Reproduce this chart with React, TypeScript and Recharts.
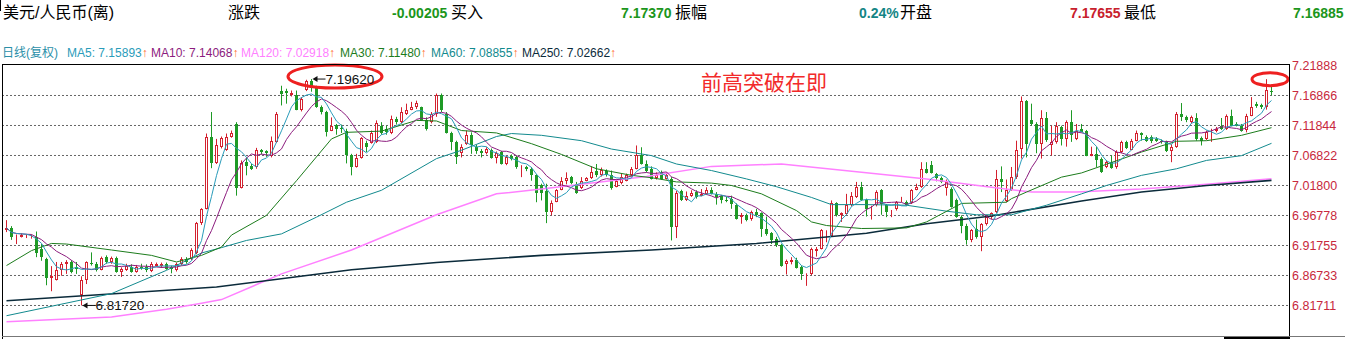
import React from 'react';
import { ComposedChart, Bar, Line, XAxis, YAxis, CartesianGrid, ReferenceDot } from 'recharts';

// 日K线 (从图上读出的开高低收)
const opens = [
  6.943, 6.947, 6.931, 6.932, 6.932, 6.932, 6.932, 6.912, 6.895, 6.863,
  6.860, 6.877, 6.886, 6.890, 6.881, 6.834, 6.859, 6.889, 6.887, 6.877,
  6.898, 6.890, 6.896, 6.873, 6.877, 6.881, 6.874, 6.882, 6.882, 6.875,
  6.884, 6.884, 6.887, 6.881, 6.877, 6.886, 6.895, 6.895, 6.905, 6.955,
  6.979, 7.100, 7.055, 7.083, 7.078, 7.100, 7.121, 7.014, 7.057, 7.051,
  7.049, 7.077, 7.075, 7.067, 7.091, 7.177, 7.177, 7.169, 7.170, 7.145,
  7.178, 7.193, 7.182, 7.149, 7.141, 7.110, 7.119, 7.115, 7.110, 7.069,
  7.049, 7.064, 7.089, 7.089, 7.091, 7.118, 7.113, 7.106, 7.130, 7.124,
  7.138, 7.145, 7.149, 7.149, 7.127, 7.124, 7.138, 7.169, 7.138, 7.106,
  7.091, 7.072, 7.087, 7.103, 7.083, 7.076, 7.072, 7.078, 7.064, 7.074,
  7.054, 7.067, 7.065, 7.048, 7.049, 7.045, 7.035, 7.019, 7.009, 6.973,
  6.991, 7.011, 7.026, 7.032, 7.020, 7.014, 7.026, 7.030, 7.043, 7.035,
  7.043, 7.035, 7.016, 7.022, 7.026, 7.035, 7.046, 7.069, 7.054, 7.046,
  7.031, 7.040, 7.029, 7.029, 6.948, 7.008, 6.994, 7.001, 7.007, 7.001,
  7.004, 7.010, 7.004, 7.000, 6.994, 6.996, 6.986, 6.966, 6.968, 6.962,
  6.973, 6.972, 6.945, 6.938, 6.928, 6.918, 6.886, 6.890, 6.894, 6.881,
  6.866, 6.870, 6.909, 6.912, 6.932, 6.934, 6.988, 6.969, 6.971, 6.985,
  6.998, 7.015, 6.993, 6.981, 6.985, 7.010, 6.985, 6.975, 6.979, 6.992,
  6.991, 6.988, 7.011, 7.015, 7.046, 7.053, 7.038, 7.031, 7.014, 7.012,
  6.994, 6.965, 6.951, 6.926, 6.945, 6.931, 6.954, 6.965, 6.973, 7.029,
  6.992, 7.011, 7.032, 7.079, 7.159, 7.127, 7.121, 7.088, 7.131, 7.085,
  7.091, 7.116, 7.096, 7.124, 7.096, 7.113, 7.109, 7.068, 7.070, 7.063,
  7.049, 7.057, 7.049, 7.074, 7.091, 7.078, 7.093, 7.106, 7.100, 7.099,
  7.096, 7.093, 7.091, 7.076, 7.083, 7.137, 7.132, 7.124, 7.131, 7.098,
  7.096, 7.107, 7.110, 7.118, 7.113, 7.134, 7.121, 7.118, 7.111, 7.135,
  7.154, 7.152, 7.149, 7.17655,
];

const highs = [
  6.960, 6.950, 6.936, 6.938, 6.936, 6.936, 6.941, 6.920, 6.897, 6.883,
  6.890, 6.890, 6.893, 6.893, 6.890, 6.866, 6.891, 6.906, 6.890, 6.899,
  6.901, 6.899, 6.899, 6.881, 6.887, 6.886, 6.885, 6.887, 6.886, 6.890,
  6.889, 6.889, 6.889, 6.884, 6.889, 6.898, 6.898, 6.913, 6.957, 6.980,
  7.105, 7.141, 7.096, 7.100, 7.105, 7.110, 7.124, 7.060, 7.065, 7.054,
  7.081, 7.079, 7.077, 7.100, 7.141, 7.185, 7.180, 7.177, 7.177, 7.166,
  7.195, 7.1962, 7.185, 7.152, 7.143, 7.132, 7.121, 7.120, 7.113, 7.071,
  7.071, 7.099, 7.093, 7.110, 7.127, 7.124, 7.118, 7.135, 7.133, 7.149,
  7.155, 7.158, 7.160, 7.150, 7.132, 7.141, 7.172, 7.172, 7.141, 7.108,
  7.093, 7.087, 7.110, 7.107, 7.086, 7.079, 7.082, 7.080, 7.075, 7.076,
  7.068, 7.070, 7.068, 7.052, 7.051, 7.049, 7.037, 7.021, 7.021, 6.993,
  7.012, 7.032, 7.040, 7.034, 7.024, 7.032, 7.032, 7.050, 7.054, 7.048,
  7.045, 7.043, 7.029, 7.038, 7.038, 7.049, 7.085, 7.082, 7.060, 7.050,
  7.040, 7.043, 7.040, 7.032, 7.009, 7.011, 7.008, 7.010, 7.010, 7.012,
  7.015, 7.015, 7.007, 7.002, 6.999, 7.001, 6.988, 6.972, 6.971, 6.976,
  6.979, 6.973, 6.966, 6.940, 6.932, 6.920, 6.894, 6.898, 6.897, 6.884,
  6.871, 6.914, 6.915, 6.945, 6.943, 6.993, 6.990, 6.973, 7.004, 7.007,
  7.024, 7.024, 6.996, 6.984, 7.010, 7.012, 6.987, 6.977, 6.992, 6.999,
  6.993, 7.012, 7.021, 7.057, 7.057, 7.059, 7.039, 7.033, 7.028, 7.015,
  6.996, 6.968, 6.954, 6.945, 6.961, 6.955, 6.968, 6.973, 7.044, 7.050,
  7.028, 7.049, 7.093, 7.167, 7.161, 7.155, 7.124, 7.144, 7.141, 7.118,
  7.124, 7.118, 7.127, 7.144, 7.121, 7.121, 7.111, 7.083, 7.083, 7.065,
  7.060, 7.068, 7.077, 7.093, 7.093, 7.096, 7.110, 7.107, 7.102, 7.102,
  7.099, 7.095, 7.093, 7.087, 7.141, 7.156, 7.135, 7.135, 7.139, 7.100,
  7.110, 7.113, 7.116, 7.131, 7.137, 7.145, 7.124, 7.121, 7.138, 7.166,
  7.158, 7.155, 7.196, 7.185,
];

const lows = [
  6.940, 6.927, 6.920, 6.931, 6.930, 6.929, 6.898, 6.892, 6.851, 6.841,
  6.859, 6.867, 6.870, 6.871, 6.870, 6.8172, 6.853, 6.884, 6.874, 6.876,
  6.887, 6.887, 6.872, 6.865, 6.875, 6.872, 6.872, 6.877, 6.873, 6.873,
  6.882, 6.880, 6.877, 6.871, 6.874, 6.884, 6.887, 6.893, 6.903, 6.952,
  6.978, 7.047, 7.054, 7.080, 7.076, 7.098, 7.001, 7.013, 7.035, 7.044,
  7.046, 7.070, 7.066, 7.065, 7.089, 7.152, 7.155, 7.167, 7.144, 7.142,
  7.176, 7.175, 7.148, 7.137, 7.100, 7.109, 7.103, 7.106, 7.055, 7.035,
  7.048, 7.063, 7.074, 7.088, 7.089, 7.103, 7.103, 7.104, 7.120, 7.122,
  7.136, 7.144, 7.146, 7.126, 7.110, 7.122, 7.133, 7.141, 7.105, 7.077,
  7.054, 7.065, 7.086, 7.071, 7.071, 7.065, 7.070, 7.063, 7.055, 7.053,
  7.052, 7.060, 7.046, 7.032, 7.042, 7.026, 6.990, 6.993, 6.955, 6.968,
  6.990, 7.010, 7.020, 7.020, 7.004, 7.012, 7.025, 7.029, 7.032, 7.033,
  7.033, 7.011, 7.015, 7.020, 7.025, 7.033, 7.045, 7.053, 7.040, 7.028,
  7.028, 7.028, 7.028, 6.926, 6.930, 6.992, 6.992, 6.999, 6.996, 7.000,
  7.002, 7.003, 6.986, 6.988, 6.990, 6.979, 6.961, 6.954, 6.958, 6.959,
  6.965, 6.932, 6.934, 6.920, 6.915, 6.882, 6.869, 6.886, 6.879, 6.860,
  6.850, 6.868, 6.899, 6.911, 6.923, 6.933, 6.966, 6.957, 6.969, 6.983,
  6.997, 6.992, 6.966, 6.961, 6.983, 6.969, 6.965, 6.965, 6.976, 6.990,
  6.984, 6.987, 7.010, 7.014, 7.038, 7.038, 7.025, 7.022, 7.001, 6.981,
  6.964, 6.938, 6.919, 6.923, 6.929, 6.908, 6.951, 6.962, 6.972, 7.007,
  6.990, 7.009, 7.029, 7.063, 7.065, 7.118, 7.072, 7.063, 7.091, 7.068,
  7.088, 7.085, 7.083, 7.091, 7.094, 7.107, 7.067, 7.067, 7.049, 7.039,
  7.047, 7.046, 7.046, 7.072, 7.079, 7.077, 7.092, 7.093, 7.091, 7.089,
  7.091, 7.088, 7.074, 7.057, 7.081, 7.126, 7.124, 7.122, 7.093, 7.085,
  7.094, 7.091, 7.107, 7.111, 7.111, 7.117, 7.117, 7.108, 7.107, 7.134,
  7.148, 7.146, 7.145, 7.16885,
];

const closes = [
  6.947, 6.932, 6.934, 6.935, 6.934, 6.934, 6.905, 6.898, 6.863, 6.867,
  6.877, 6.886, 6.890, 6.873, 6.879, 6.859, 6.890, 6.888, 6.877, 6.896,
  6.890, 6.896, 6.873, 6.878, 6.884, 6.874, 6.881, 6.880, 6.876, 6.887,
  6.887, 6.887, 6.879, 6.878, 6.886, 6.895, 6.890, 6.910, 6.955, 6.978,
  7.100, 7.055, 7.085, 7.097, 7.099, 7.106, 7.014, 7.056, 7.050, 7.046,
  7.078, 7.074, 7.072, 7.092, 7.138, 7.172, 7.173, 7.173, 7.145, 7.163,
  7.193, 7.182, 7.149, 7.141, 7.108, 7.118, 7.113, 7.112, 7.069, 7.049,
  7.064, 7.098, 7.083, 7.106, 7.123, 7.106, 7.108, 7.130, 7.124, 7.141,
  7.144, 7.149, 7.156, 7.127, 7.113, 7.138, 7.169, 7.144, 7.106, 7.091,
  7.065, 7.083, 7.103, 7.085, 7.076, 7.072, 7.079, 7.064, 7.072, 7.054,
  7.065, 7.062, 7.049, 7.049, 7.046, 7.035, 7.005, 7.005, 6.973, 6.989,
  7.011, 7.026, 7.031, 7.022, 7.006, 7.025, 7.030, 7.041, 7.035, 7.044,
  7.035, 7.014, 7.026, 7.032, 7.035, 7.046, 7.069, 7.054, 7.043, 7.029,
  7.035, 7.029, 7.035, 6.948, 7.006, 6.993, 7.001, 7.005, 6.999, 7.004,
  7.010, 7.004, 6.999, 6.993, 6.992, 6.987, 6.962, 6.969, 6.961, 6.973,
  6.968, 6.945, 6.937, 6.926, 6.918, 6.884, 6.891, 6.894, 6.880, 6.870,
  6.868, 6.911, 6.912, 6.943, 6.934, 6.988, 6.968, 6.972, 6.985, 7.001,
  7.015, 6.993, 6.979, 6.982, 7.007, 6.987, 6.973, 6.976, 6.990, 6.994,
  6.986, 7.010, 7.016, 7.046, 7.039, 7.039, 7.031, 7.024, 7.024, 6.982,
  6.965, 6.951, 6.926, 6.943, 6.931, 6.953, 6.965, 6.972, 7.029, 7.024,
  7.011, 7.032, 7.078, 7.159, 7.088, 7.121, 7.088, 7.131, 7.094, 7.091,
  7.117, 7.096, 7.124, 7.103, 7.110, 7.108, 7.068, 7.070, 7.061, 7.040,
  7.057, 7.048, 7.074, 7.091, 7.081, 7.093, 7.106, 7.103, 7.093, 7.092,
  7.092, 7.091, 7.076, 7.083, 7.138, 7.132, 7.127, 7.132, 7.096, 7.093,
  7.107, 7.110, 7.113, 7.113, 7.135, 7.118, 7.118, 7.110, 7.135, 7.150,
  7.151, 7.149, 7.178, 7.1737,
];

// 长周期均线: [K线序号, 读出的数值]
const ma30Pts = [
  [0, 6.884], [5, 6.909], [9, 6.921], [12, 6.920], [21, 6.910], [29, 6.901], [34, 6.890],
  [39, 6.901], [43, 6.915], [45, 6.935], [52, 6.968], [58, 7.026], [65, 7.096], [68, 7.107],
  [75, 7.109], [82, 7.127], [86, 7.126], [91, 7.110], [98, 7.106], [105, 7.088], [111, 7.070],
  [118, 7.046], [125, 7.035], [129, 7.031], [134, 7.024], [141, 7.022], [145, 7.018],
  [151, 7.004], [158, 6.976], [161, 6.957], [164, 6.951], [171, 6.946], [180, 6.947],
  [184, 6.957], [191, 6.988], [200, 6.990], [201, 6.996], [204, 7.007], [211, 7.032],
  [215, 7.039], [227, 7.074], [234, 7.092], [240, 7.093], [247, 7.102], [253, 7.1148],
];
const ma60Pts = [
  [0, 6.800], [21, 6.837], [32, 6.876], [39, 6.905], [43, 6.914], [48, 6.926], [55, 6.937],
  [62, 6.965], [68, 6.990], [75, 7.010], [86, 7.063], [91, 7.077], [98, 7.100], [101, 7.105],
  [107, 7.102], [115, 7.093], [121, 7.079], [129, 7.068], [134, 7.054], [141, 7.043],
  [148, 7.029], [154, 7.016], [161, 6.998], [165, 6.986], [172, 6.986], [180, 6.985],
  [188, 6.975], [194, 6.969], [201, 6.969], [208, 6.985], [215, 7.004], [220, 7.018],
  [227, 7.035], [234, 7.046], [240, 7.060], [247, 7.068], [253, 7.0886],
];
const ma120Pts = [
  [0, 6.790], [21, 6.798], [32, 6.811], [39, 6.821], [43, 6.827], [55, 6.870], [69, 6.910],
  [86, 6.969], [98, 7.004], [107, 7.012], [128, 7.033], [141, 7.050], [155, 7.054],
  [171, 7.040], [184, 7.029], [197, 7.015], [205, 7.007], [214, 7.007], [227, 7.012],
  [240, 7.020], [253, 7.0292],
];
const ma250Pts = [
  [0, 6.825], [20, 6.836], [42, 6.848], [69, 6.877], [86, 6.889], [107, 6.901], [129, 6.910],
  [150, 6.921], [172, 6.938], [184, 6.954], [197, 6.967], [215, 6.992], [227, 7.007],
  [240, 7.018], [253, 7.0266],
];

const yTicks = [7.21888, 7.16866, 7.11844, 7.06822, 7.018, 6.96778, 6.91755, 6.86733, 6.81711];
const Y_MAX = 7.22139;
const Y_MIN = 6.76605;

const headerTexts = ['美元/人民币(离)', '涨跌', '-0.00205', '买入', '7.17370', '振幅', '0.24%', '开盘', '7.17655', '最低', '7.16885'];
const headerColors = ['#000', '#000', '#1c961c', '#000', '#1c961c', '#000', '#138585', '#000', '#c8202c', '#000', '#1c961c'];
const headerX = [3, 228, 392, 451, 621, 675, 859, 900, 1070, 1124, 1293];

const legendNames = ['MA5', 'MA10', 'MA120', 'MA30', 'MA60', 'MA250'];
const legendValues = ['7.15893', '7.14068', '7.02918', '7.11480', '7.08855', '7.02662'];
const legendX = [67, 151, 241, 340, 431, 522];

const RED = '#d4202e';
const GREEN = '#1e9a26';
const C_MA5 = '#2a9cba';
const C_MA10 = '#8c1c7e';
const C_MA30 = '#1c7c1c';
const C_MA60 = '#128a8e';
const C_MA120 = '#ff80ff';
const C_MA250 = '#0b2b3b';
const legendColors = [C_MA5, C_MA10, C_MA120, C_MA30, C_MA60, C_MA250];

const LATIN = '"Liberation Sans", Arial, "Noto Sans CJK SC", sans-serif';

const movingAvg = (arr: number[], n: number) =>
  arr.map((_, i) => {
    const s = arr.slice(Math.max(0, i - n + 1), i + 1);
    return s.reduce((a, b) => a + b, 0) / s.length;
  });

const lookup = (pts: number[][]) => {
  const m = new Map(pts.map(([i, v]) => [i, v]));
  return (i: number) => (m.has(i) ? (m.get(i) as number) : null);
};

const ma5 = movingAvg(closes, 5);
const ma10 = movingAvg(closes, 10);
const g30 = lookup(ma30Pts);
const g60 = lookup(ma60Pts);
const g120 = lookup(ma120Pts);
const g250 = lookup(ma250Pts);

const data = opens.map((o, i) => ({
  i,
  open: o,
  high: highs[i],
  low: lows[i],
  close: closes[i],
  ma5: ma5[i],
  ma10: ma10[i],
  ma30: g30(i),
  ma60: g60(i),
  ma120: g120(i),
  ma250: g250(i),
}));

const Candle = (props: any) => {
  const { x, y, width, height, payload } = props;
  if (!payload || y == null || height == null) return null;
  const { open, close, high, low } = payload;
  const top = Math.min(y, y + height);
  const span = Math.abs(height);
  const k = high > low ? span / (high - low) : 0;
  const py = (v: number) => top + (high - v) * k;
  const cx = Math.floor(x + width / 2) + 0.5;
  const up = close >= open;
  const color = up ? RED : GREEN;
  const bTop = Math.round(py(Math.max(open, close)));
  const bBot = Math.round(py(Math.min(open, close)));
  const bh = Math.max(1, bBot - bTop);
  return (
    <g>
      <line x1={cx} x2={cx} y1={top} y2={top + span} stroke={color} strokeWidth={1} />
      {up ? (
        <rect x={cx - 1} y={bTop + 0.5} width={2} height={Math.max(0, bh - 1)} fill="#fff" stroke={color} strokeWidth={1} />
      ) : (
        <rect x={cx - 1.5} y={bTop} width={3} height={bh} fill={color} />
      )}
    </g>
  );
};

const PriceTick = (props: any) => {
  const { y, payload } = props;
  return (
    <text x={1292} y={y + 4.5} fill="#c8283c" fontSize={12.5} fontFamily={LATIN}>
      {Number(payload.value).toFixed(5)}
    </text>
  );
};

const PriceMark = ({ cx, cy, text, ring }: any) => (
  <g>
    {ring && <ellipse cx={cx + 23.5} cy={cy - 2.5} rx={47} ry={11.5} fill="none" stroke="#ee2020" strokeWidth={3} />}
    <polygon points={`${cx + 1},${cy} ${cx + 6},${cy - 3} ${cx + 6},${cy + 3}`} fill="#111" />
    <line x1={cx + 5} x2={cx + 14} y1={cy} y2={cy} stroke="#111" strokeWidth={1} />
    <text x={cx + 14} y={cy + 4.5} fill="#111" fontSize={13.5} fontFamily={LATIN}>
      {text}
    </text>
  </g>
);

const line = (key: string, color: string, w = 1) => (
  <Line
    key={key}
    type="linear"
    dataKey={key}
    stroke={color}
    strokeWidth={w}
    dot={false}
    activeDot={false}
    connectNulls
    isAnimationActive={false}
  />
);

export default function App() {
  return (
    <div style={{ position: 'absolute', left: 0, top: 0, width: 1345, height: 339, background: '#fff', overflow: 'hidden' }}>
      {headerTexts.map((t, k) => (
        <div
          key={t}
          style={{
            position: 'absolute',
            left: headerX[k],
            top: 3,
            lineHeight: '20px',
            whiteSpace: 'nowrap',
            color: headerColors[k],
            fontFamily: LATIN,
            fontSize: headerColors[k] === '#000' ? 16 : 14,
            fontWeight: headerColors[k] === '#000' ? 400 : 700,
          }}
        >
          {t}
        </div>
      ))}

      <div style={{ position: 'absolute', left: 2, top: 46, lineHeight: '14px', fontSize: 12, color: '#2b8fa8', fontFamily: LATIN, whiteSpace: 'nowrap' }}>
        日线(复权)
      </div>
      {legendNames.map((n, k) => (
        <div
          key={n}
          style={{ position: 'absolute', left: legendX[k], top: 46, lineHeight: '14px', fontSize: 12, fontFamily: LATIN, whiteSpace: 'nowrap', color: legendColors[k] }}
        >
          {n}: {legendValues[k]}
          <span style={{ color: '#ff6a2a' }}>↑</span>
        </div>
      ))}

      <div style={{ position: 'absolute', left: 701, top: 68, lineHeight: '26px', fontSize: 21, color: '#f22a2a', fontFamily: '"Noto Sans CJK SC", sans-serif', whiteSpace: 'nowrap' }}>
        前高突破在即
      </div>

      <ComposedChart width={1345} height={339} data={data} margin={{ top: 64, right: 0, bottom: 3, left: 2 }} style={{ position: 'absolute', left: 0, top: 0 }}>
        <CartesianGrid vertical={false} stroke="#666" strokeDasharray="2 2" horizontalValues={yTicks.slice(1)} />
        <XAxis dataKey="i" hide padding={{ left: 2, right: 16 }} />
        <YAxis
          orientation="right"
          type="number"
          width={55}
          domain={[Y_MIN, Y_MAX]}
          ticks={yTicks}
          interval={0}
          allowDataOverflow
          axisLine={false}
          tickLine={false}
          tick={PriceTick}
        />
        <Bar dataKey={(d: any) => [d.low, d.high]} shape={(p: any) => <Candle {...p} />} isAnimationActive={false} />
        {line('ma120', C_MA120, 1.5)}
        {line('ma250', C_MA250, 1.6)}
        {line('ma60', C_MA60)}
        {line('ma30', C_MA30)}
        {line('ma10', C_MA10)}
        {line('ma5', C_MA5)}
        <ReferenceDot x={61} y={7.1962} ifOverflow="visible" shape={(p: any) => <PriceMark {...p} text="7.19620" ring />} />
        <ReferenceDot x={15} y={6.8172} ifOverflow="visible" shape={(p: any) => <PriceMark {...p} text="6.81720" />} />
        <ReferenceDot
          x={253}
          y={7.196}
          ifOverflow="visible"
          shape={(p: any) => <ellipse cx={p.cx - 1.5} cy={p.cy} rx={18} ry={6.5} fill="none" stroke="#ee2020" strokeWidth={3} />}
        />
      </ComposedChart>

      {/* 图框 */}
      <div style={{ position: 'absolute', left: 2, top: 64, width: 1288, height: 1, background: '#000' }} />
      <div style={{ position: 'absolute', left: 2, top: 64, width: 1, height: 275, background: '#000' }} />
      <div style={{ position: 'absolute', left: 1289, top: 64, width: 1, height: 273, background: '#000' }} />
      <div style={{ position: 'absolute', left: 2, top: 336, width: 1343, height: 1, background: '#777' }} />
      <div style={{ position: 'absolute', left: 1224, top: 337, width: 66, height: 2, background: '#000' }} />
      <div style={{ position: 'absolute', left: 0, top: 0, width: 1, height: 11, background: '#000' }} />
    </div>
  );
}
